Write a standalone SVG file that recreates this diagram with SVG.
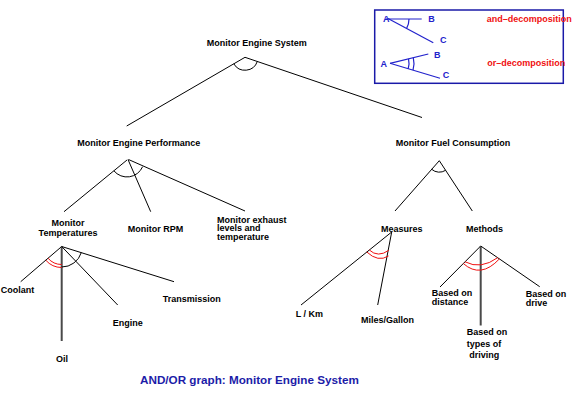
<svg xmlns="http://www.w3.org/2000/svg" width="586" height="400" viewBox="0 0 586 400">
<style>
text{font-family:"Liberation Sans",Arial,sans-serif;font-weight:bold;font-size:9px;fill:#000}
.ln{stroke:#000;stroke-width:1;fill:none}
.thick{stroke:#4a4a4a;stroke-width:2;fill:none}
.and{stroke:#000;stroke-width:1;fill:none}
.or{stroke:#f01010;stroke-width:1;fill:none}
.lg{stroke:#2222cc;stroke-width:1.2;fill:none}
.lgt{fill:#2222cc}
.red{fill:#f01010}
.cap{fill:#1c1ca8;font-size:11.7px}
</style>
<rect width="586" height="400" fill="#fff"/>

<g id="connectors">
  <line class="ln" x1="245" y1="57.3" x2="126.7" y2="126"/>
  <line class="ln" x1="245" y1="57.3" x2="422" y2="117.5"/>
  <path class="and" d="M233.8,63.8 A13,13 0 0 0 257.3,61.5"/>

  <line class="ln" x1="127" y1="160" x2="64" y2="211.7"/>
  <line class="ln" x1="128" y1="159.5" x2="150.7" y2="211.7"/>
  <line class="ln" x1="128.5" y1="159.5" x2="245" y2="211"/>
  <path class="and" d="M113.9,170.8 A17,17 0 0 0 142.6,166.7"/>

  <line class="ln" x1="439.3" y1="160.7" x2="395" y2="211"/>
  <line class="ln" x1="439.3" y1="160.7" x2="472.3" y2="211"/>
  <path class="and" d="M431.7,169.3 A11.5,11.5 0 0 0 445.6,170.3"/>

  <line class="ln" x1="61.7" y1="246.5" x2="20.7" y2="281.7"/>
  <line class="thick" x1="61.7" y1="246.5" x2="61.7" y2="341"/>
  <line class="ln" x1="61.7" y1="246.5" x2="117.7" y2="305"/>
  <line class="ln" x1="61.7" y1="246.5" x2="174" y2="281.7"/>
  <path class="and" d="M61.7,267 A20.5,20.5 0 0 0 81.3,252.6"/>
  <path class="or" d="M48,258.2 A18,18 0 0 0 61.7,264.5"/>
  <path class="or" d="M45.8,260.2 A21,21 0 0 0 61.7,267.5"/>

  <line class="ln" x1="391.7" y1="232" x2="301" y2="305"/>
  <line class="ln" x1="391.7" y1="232" x2="377.7" y2="305"/>
  <path class="or" d="M369.3,250 Q378,258 388.8,250.3"/>
  <path class="or" d="M366.8,252 Q378,262.5 388.5,256"/>

  <line class="ln" x1="480.7" y1="246" x2="440" y2="287"/>
  <line class="thick" x1="480.7" y1="246" x2="480.7" y2="325.5"/>
  <line class="ln" x1="480.7" y1="246" x2="539.7" y2="286.7"/>
  <path class="or" d="M465,261.8 Q480.7,270 497.8,257.6"/>
  <path class="or" d="M463.3,263.5 Q480.7,279 499.5,258.8"/>
</g>

<g id="node-monitor-engine-system"><text x="206.7" y="46">Monitor Engine System</text></g>
<g id="node-monitor-engine-performance"><text x="77.3" y="145.7">Monitor Engine Performance</text></g>
<g id="node-monitor-fuel-consumption"><text x="395.7" y="145.7">Monitor Fuel Consumption</text></g>
<g id="node-monitor-temperatures"><text x="68" y="226" text-anchor="middle">Monitor</text><text x="68" y="236" text-anchor="middle">Temperatures</text></g>
<g id="node-monitor-rpm"><text x="127.7" y="231.7">Monitor RPM</text></g>
<g id="node-monitor-exhaust"><text x="217" y="222.5">Monitor exhaust</text><text x="217" y="231">levels and</text><text x="217" y="239.5">temperature</text></g>
<g id="node-measures"><text x="381" y="231.7">Measures</text></g>
<g id="node-methods"><text x="466" y="231.7">Methods</text></g>
<g id="node-coolant"><text x="0.7" y="293.3">Coolant</text></g>
<g id="node-oil"><text x="56" y="361.7">Oil</text></g>
<g id="node-engine"><text x="112.7" y="326">Engine</text></g>
<g id="node-transmission"><text x="162.7" y="302.3">Transmission</text></g>
<g id="node-l-km"><text x="295.7" y="316.7">L / Km</text></g>
<g id="node-miles-gallon"><text x="361" y="322.7">Miles/Gallon</text></g>
<g id="node-based-distance"><text x="431.7" y="295.5">Based on</text><text x="431.7" y="305.3">distance</text></g>
<g id="node-based-drive"><text x="525.7" y="296.5">Based on</text><text x="525.7" y="305.8">drive</text></g>
<g id="node-based-types"><text x="466.7" y="335">Based on</text><text x="466.7" y="346.7">types of</text><text x="469.3" y="358.3">driving</text></g>

<g id="legend">
  <rect x="374.7" y="10" width="188.6" height="73.3" fill="none" stroke="#1a1aa8" stroke-width="1.5"/>
  <line class="lg" x1="386" y1="19" x2="421.7" y2="19"/>
  <line class="lg" x1="388" y1="18.5" x2="433.3" y2="42.7"/>
  <path class="lg" d="M409,19 A19,19 0 0 1 406.7,28.1"/>
  <text class="lgt" x="383" y="22">A</text>
  <text class="lgt" x="428.3" y="22">B</text>
  <text class="lgt" x="440" y="43">C</text>
  <line class="lg" x1="390" y1="63.3" x2="428.3" y2="54"/>
  <line class="lg" x1="390" y1="63.3" x2="440" y2="78.3"/>
  <path class="lg" d="M408.5,58.8 A19,19 0 0 1 408.2,68.8"/>
  <path class="lg" d="M413.3,57.6 A24,24 0 0 1 413,70.2"/>
  <text class="lgt" x="380.5" y="66.5">A</text>
  <text class="lgt" x="434" y="57.5">B</text>
  <text class="lgt" x="442.7" y="78">C</text>
  <text class="red" x="486.7" y="21.5">and–decomposition</text>
  <text class="red" x="487.3" y="66">or–decomposition</text>
</g>

<text class="cap" x="140" y="383.5">AND/OR graph: Monitor Engine System</text>
</svg>
